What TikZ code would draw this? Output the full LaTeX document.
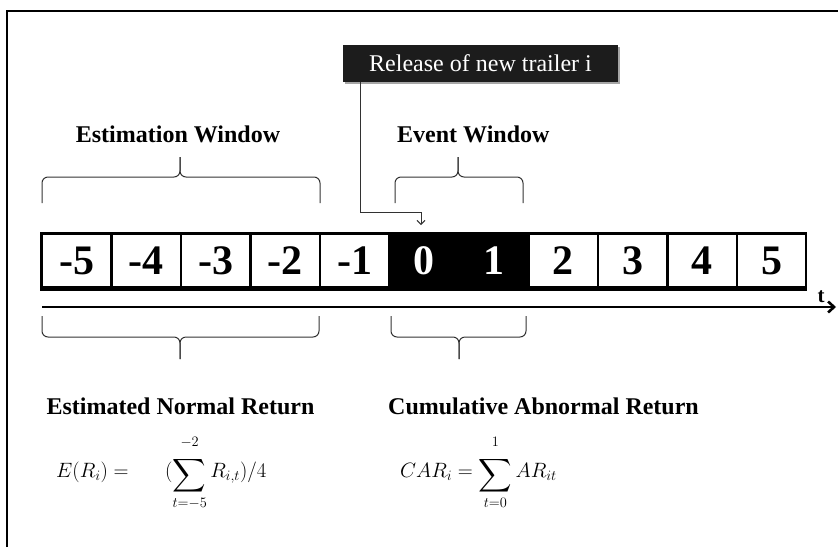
\documentclass[tikz,border=0pt]{standalone}
\usepackage{amsmath}
\usepackage{fontspec}
\setmainfont{Liberation Serif}
\usetikzlibrary{arrows.meta,shadows}
\definecolor{boxgray}{RGB}{28,28,28}
\definecolor{linegray}{RGB}{50,50,50}
\newcommand{\bigsumop}{\mathop{\lower4pt\hbox{$\vcenter{\hbox{\scalebox{1.12}{$\displaystyle\sum$}}}$}}\limits}
\begin{document}
\begin{tikzpicture}[x=1pt,y=-1pt,
  lbl/.style={font=\fontsize{24}{28}\selectfont\bfseries, inner sep=0},
  num/.style={font=\fontsize{42}{48}\selectfont\bfseries, inner sep=0},
  wcell/.style={num, fill=white, minimum width=67.1pt, minimum height=51pt},
  bcell/.style={num, text=white, minimum width=67.1pt, minimum height=51pt},
  bracelines/.style={draw=linegray, line width=1pt, rounded corners=6pt},
  frameline/.style={line width=2pt, black},
  formula/.style={anchor=base west, inner sep=0, font=\fontsize{22}{26}\selectfont}]
\useasboundingbox (0,0) rectangle (838,547);
% frame
\draw[frameline] (7,547) -- (7,10.5) -- (838,10.5);
% event box
\node[fill=boxgray, minimum width=275pt, minimum height=37pt, inner sep=0,
      text=white, font=\fontsize{24}{28}\selectfont,
      drop shadow={shadow xshift=2pt, shadow yshift=-2pt, fill=black, opacity=0.35}]
      (box) at (480.5,63) {Release of new trailer i};
% window labels
\node[lbl, anchor=base] (estw) at (178,142) {Estimation Window};
\node[lbl, anchor=base west] (evw) at (397,142) {Event Window};
% upper braces
\draw[bracelines] (42,203) -- (42,177) -- (180,177) -- (180,157);
\draw[bracelines] (320,203) -- (320,177) -- (180,177) -- (180,157);
\draw[bracelines] (395,203) -- (395,177) -- (458,177) -- (458,157);
\draw[bracelines] (523,203) -- (523,177) -- (458,177) -- (458,157);
% strip
\fill[black] (40,232) rectangle (807,291);
\foreach \v [count=\k from 0] in {-5,-4,-3,-2,-1}
  \node[wcell] (c\k) at ({76.75+69.5*\k},260.5) {\v};
\node[bcell] (c5) at ({76.75+69.5*5},260.5) {0};
\node[bcell] (c6) at ({76.75+69.5*6},260.5) {1};
\foreach \v [count=\k from 7] in {2,3,4,5}
  \node[wcell] (c\k) at ({76.75+69.5*\k},260.5) {\v};
% release arrow
\coordinate (atip) at (421,225);
\draw[draw=linegray, line width=1pt, -{Straight Barb[length=4pt,width=8pt]}]
  ([xshift=18pt]box.south west) -- ++(0,131) -| (atip);
% time axis
\coordinate (ax0) at (42,307);
\coordinate (ax1) at (836,307);
\draw[line width=2.6pt, -{Straight Barb[length=6pt,width=11pt]}] (ax0) -- (ax1);
\node[font=\fontsize{21}{24}\selectfont\bfseries, inner sep=0, anchor=base] (tl) at (821,302) {t};
% lower braces
\draw[bracelines] (42,316) -- (42,337) -- (180,337) -- (180,359);
\draw[bracelines] (319,316) -- (319,337) -- (180,337) -- (180,359);
\draw[bracelines] (391,316) -- (391,337) -- (459,337) -- (459,359);
\draw[bracelines] (526,316) -- (526,337) -- (459,337) -- (459,359);
% bottom labels
\node[lbl, anchor=base] (enr) at (180.5,414) {Estimated Normal Return};
\node[lbl, anchor=base] (car) at (543.5,414) {Cumulative Abnormal Return};
% formulas
\node[formula] (f1) at (56,477) {$E(R_i) = \hspace{1.4em}(\bigsumop_{t=-5}^{-2\vrule width 0pt depth 8pt} R_{i,t})/4$};
\node[formula] (f2) at (400,477) {$CAR_i = \bigsumop_{t=0}^{1\vrule width 0pt depth 8pt} AR_{it}$};
\end{tikzpicture}
\end{document}
